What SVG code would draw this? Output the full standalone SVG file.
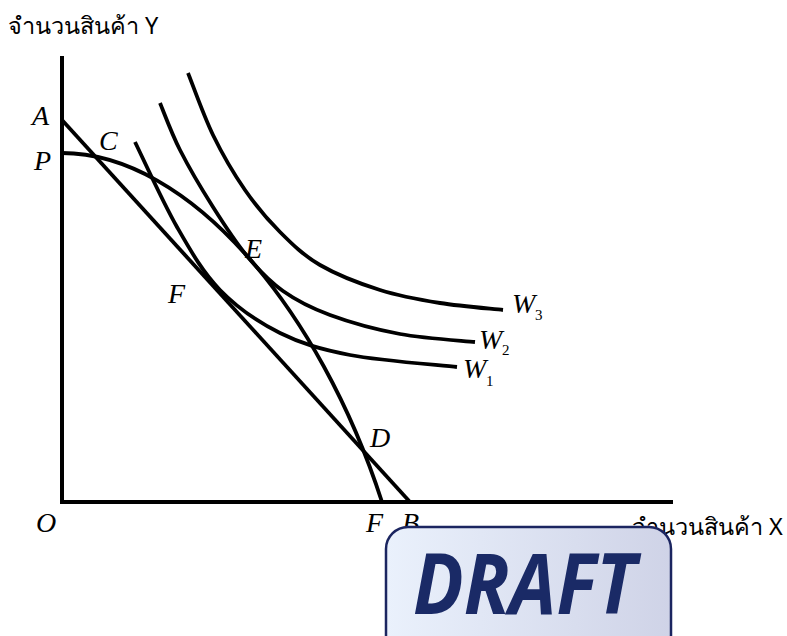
<svg xmlns="http://www.w3.org/2000/svg" width="787" height="636" viewBox="0 0 787 636">
<style>
.ax{stroke:#000;stroke-width:4;fill:none}
.cv{stroke:#000;stroke-width:3.8;fill:none;stroke-linecap:butt}
.lb{font-family:"Liberation Serif","Times New Roman",serif;font-style:italic;font-size:28px;fill:#000}
.sb{font-family:"Liberation Serif","Times New Roman",serif;font-size:15px;fill:#000}
.th{font-family:Tahoma,"Noto Sans","DejaVu Sans",sans-serif;font-size:23.5px;fill:#000}
</style>
<defs>
<linearGradient id="g" x1="0" y1="0" x2="1" y2="0">
<stop offset="0" stop-color="#eaf1fc"/>
<stop offset="1" stop-color="#cfd3e7"/>
</linearGradient>
</defs>
<rect width="787" height="636" fill="#fff"/>
<g id="axes">
<path class="ax" d="M62,56 L62,502 L673,502"/>
<text class="th" x="8" y="34">จำนวนสินค้า Y</text>
<text class="th" x="632" y="535">จำนวนสินค้า X</text>
<text class="lb" x="36" y="532">O</text>
</g>
<g id="connectors">
<path id="AB" class="cv" d="M62,120 L410,502"/>
<path id="PPF" class="cv" d="M62,153 C190,153 320,310 382,502"/>
<path id="W1" class="cv" d="M135,142 C142,156.2 162.8,202.3 177,227 C191.2,251.7 202.8,272.3 220,290 C237.2,307.7 258.3,322.2 280,333 C301.7,343.8 320.5,349.3 350,355 C379.5,360.7 439.2,365 457,367"/>
<path id="W2" class="cv" d="M160,103 C163.3,110.8 171.2,132.7 180,150 C188.8,167.3 201.8,189.3 213,207 C224.2,224.7 235.3,242 247,256 C258.7,270 269.2,281.2 283,291 C296.8,300.8 310.5,307.8 330,315 C349.5,322.2 375.8,329.5 400,334 C424.2,338.5 462.5,340.7 475,342"/>
<path id="W3" class="cv" d="M188,73 C192.2,83.3 203.5,115.5 213,135 C222.5,154.5 233.8,173.8 245,190 C256.2,206.2 267.5,219.5 280,232 C292.5,244.5 303.3,255.3 320,265 C336.7,274.7 360,283.7 380,290 C400,296.3 419.5,299.7 440,303 C460.5,306.3 492.5,308.8 503,310"/>
</g>
<g id="labels">
<text class="lb" x="32" y="125">A</text>
<text class="lb" x="34" y="170">P</text>
<text class="lb" x="99" y="150">C</text>
<text class="lb" x="245" y="258">E</text>
<text class="lb" x="168" y="303">F</text>
<text class="lb" x="370" y="447">D</text>
<text class="lb" x="366" y="532">F</text>
<text class="lb" x="402" y="532">B</text>
<text class="lb" x="512" y="313">W</text><text class="sb" x="535" y="320">3</text>
<text class="lb" x="479" y="349">W</text><text class="sb" x="502" y="355">2</text>
<text class="lb" x="463" y="378">W</text><text class="sb" x="486" y="386">1</text>
</g>
<g id="stamp">
<rect x="386" y="527" width="285" height="130" rx="22" fill="url(#g)" stroke="#1b2560" stroke-width="2.5"/>
<text x="413" y="614" font-family="'Open Sans','Liberation Sans',sans-serif" font-weight="bold" font-style="italic" font-size="84" fill="#1a2a66" textLength="223" lengthAdjust="spacingAndGlyphs">DRAFT</text>
</g>
</svg>
